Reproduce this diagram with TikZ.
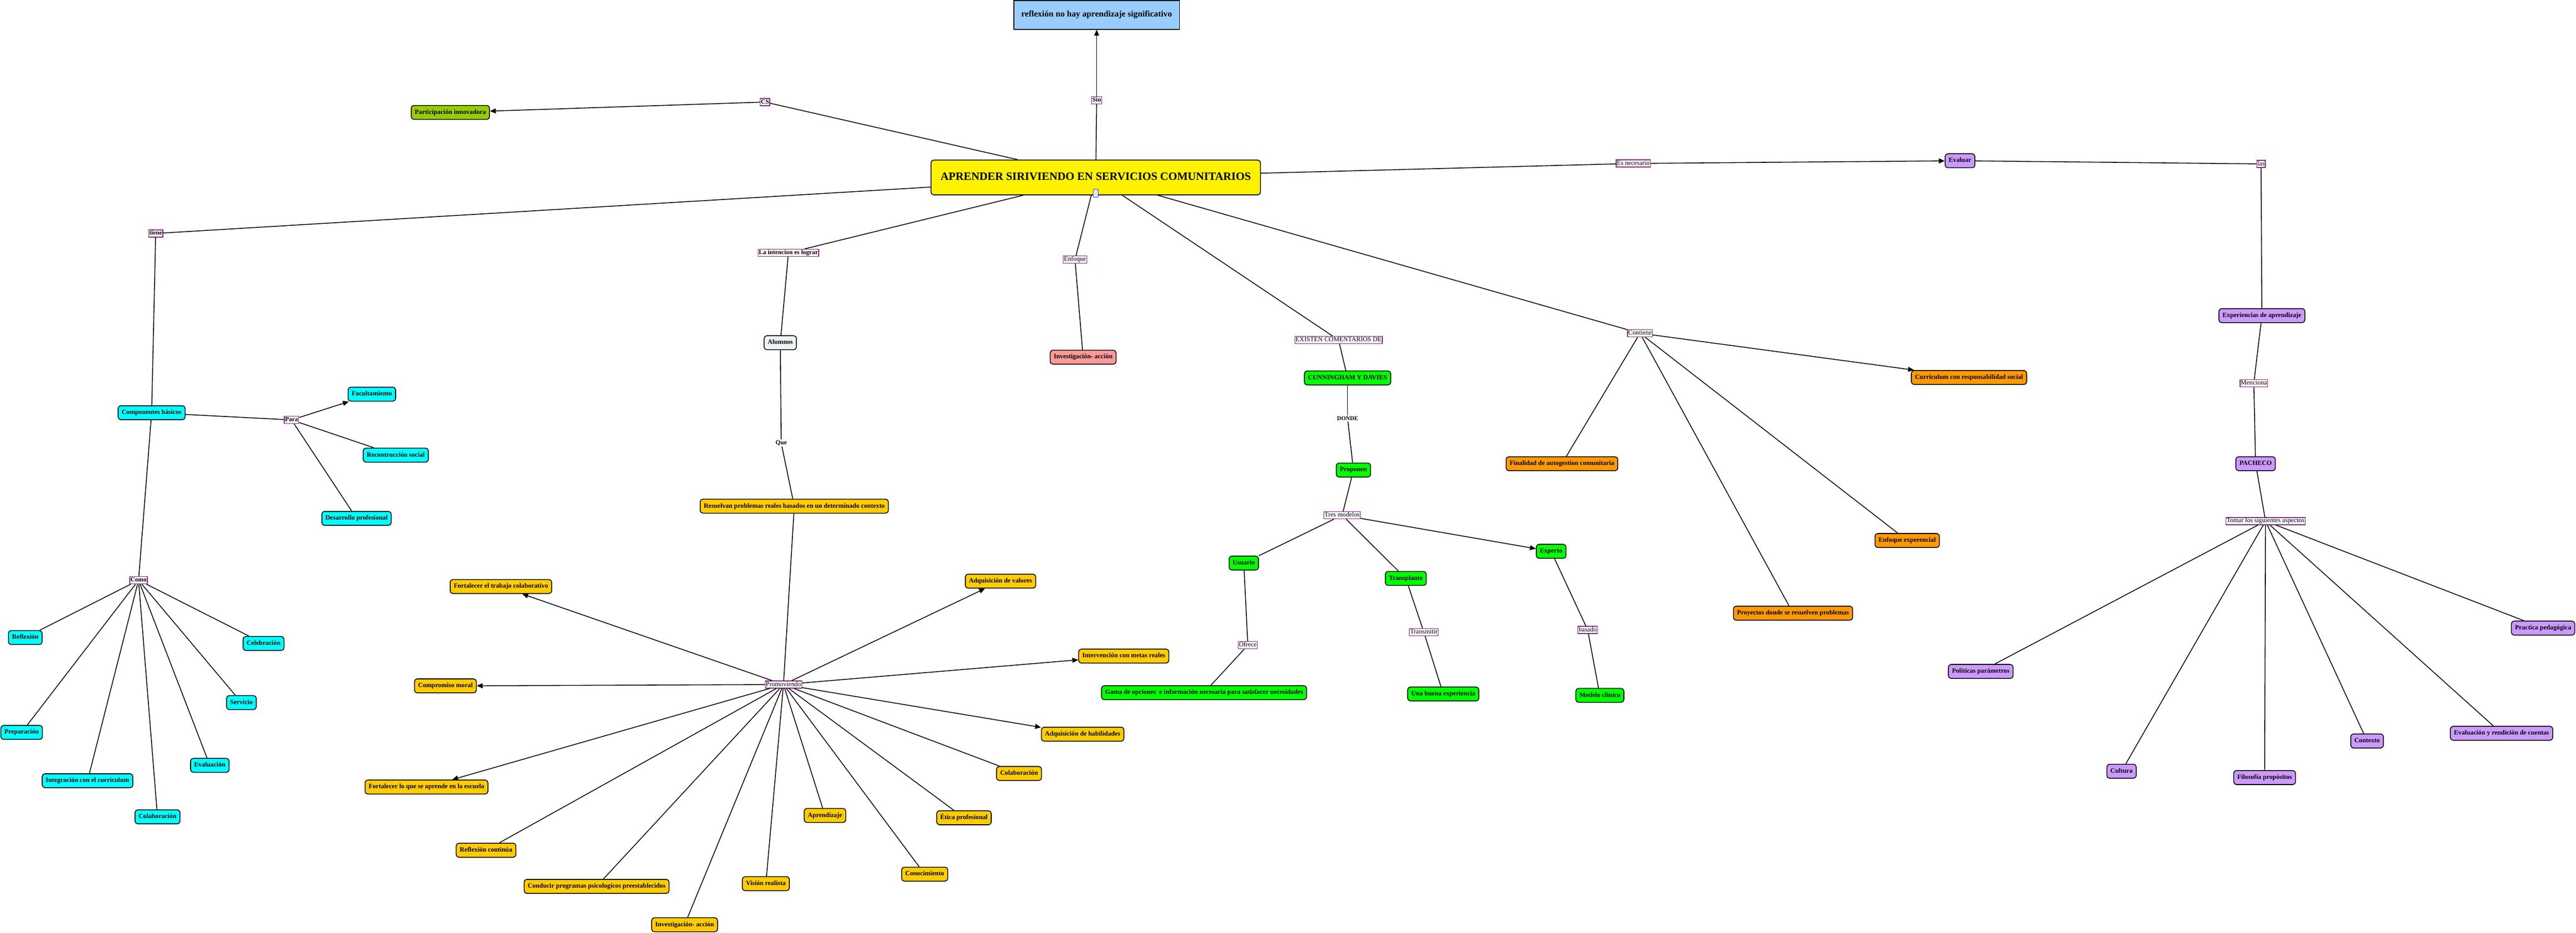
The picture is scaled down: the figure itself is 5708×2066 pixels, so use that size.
\documentclass[tikz,border=0pt]{standalone}
\usepackage{fontspec}
\setmainfont{Liberation Serif}
\usetikzlibrary{arrows.meta}
\definecolor{cyanc}{HTML}{00FFFF}
\definecolor{goldc}{HTML}{FFCC00}
\definecolor{limec}{HTML}{00FF00}
\definecolor{orangec}{HTML}{FF9900}
\definecolor{purpc}{HTML}{CC99FF}
\definecolor{pinkc}{HTML}{FF9999}
\definecolor{olivec}{HTML}{99CC00}
\definecolor{bluec}{HTML}{99CCFF}
\definecolor{labelb}{HTML}{882288}
\definecolor{alumc}{HTML}{EEF3F6}
\tikzset{
  concept/.style={draw=black, line width=1.8pt, rounded corners=6pt,
    font=\fontsize{14.5}{16}\selectfont\bfseries, inner xsep=8pt, inner ysep=0pt,
    minimum height=31pt, text height=10pt, text depth=3pt},
  cy/.style={concept, fill=cyanc},
  gd/.style={concept, fill=goldc},
  lm/.style={concept, fill=limec},
  og/.style={concept, fill=orangec},
  pp/.style={concept, fill=purpc},
  lbl/.style={draw=labelb, fill=white, line width=1.5pt, inner sep=1.5pt,
    font=\fontsize{14.5}{16}\selectfont, text height=10pt, text depth=3pt},
  lblb/.style={lbl, font=\fontsize{14}{16}\selectfont\bfseries},
  plaintxt/.style={font=\fontsize{14}{16}\selectfont\bfseries, inner sep=2pt},
  con/.style={line width=1.8pt},
  arr/.style={con, -{Triangle[length=13pt,width=11pt]}}
}
\begin{document}
\begin{tikzpicture}[x=1pt,y=-1pt]
\useasboundingbox (0,0) rectangle (5708,2066);
% central
\node[concept, fill=yellow, minimum width=730pt, minimum height=77pt, text height=18pt, text depth=5pt,
  font=\fontsize{25}{29}\selectfont\bfseries] (main) at (2428,393) {APRENDER SIRIVIENDO EN SERVICIOS COMUNITARIOS};
\node[draw=black, fill=bluec, line width=1.8pt, minimum width=367pt, minimum height=64pt,
  font=\fontsize{19}{22}\selectfont\bfseries] (refl) at (2430,33) {reflexión no hay aprendizaje significativo};
\node[lblb] (sin) at (2430,222) {Sin};
\node[lblb] (cs) at (1695,226) {CS};
\node[concept, fill=olivec] (part) at (998,249) {Participación innovadora};
% left: tiene
\node[lblb] (tiene) at (345,517) {tiene};
\node[cy] (comp) at (336,914) {Componentes básicos};
\node[lblb] (para) at (646,930) {Para};
\node[cy] (facu) at (824,873) {Facultamiento};
\node[cy] (recon) at (877,1008) {Recontrucción social};
\node[cy] (desa) at (790,1148) {Desarrollo profesional};
\node[lblb] (como) at (307,1285) {Como};
\node[cy] (reflex) at (56,1412) {Reflexión};
\node[cy] (celeb) at (584,1425) {Celebración};
\node[cy] (serv) at (535,1556) {Servicio};
\node[cy] (prep) at (48,1622) {Preparación};
\node[cy] (evalc) at (465,1695) {Evaluación};
\node[cy] (integ) at (194,1729) {Integración con el curriculum};
\node[cy] (colab) at (349,1809) {Colaboración};
% intencion
\node[lblb] (inten) at (1747,560) {La intencion es lograr};
\node[concept, fill=alumc] (alum) at (1729,759) {Alumnos};
\node[plaintxt] (que) at (1731,981) {Que};
\node[gd] (resu) at (1760,1121) {Resuelvan problemas reales basados en un determinado contexto};
\node[lbl] (prom) at (1736,1516) {Promoviendo};
\node[gd] (ftc) at (1110,1299) {Fortalecer el trabajo colaborativo};
\node[gd] (cmor) at (987,1519) {Compromiso moral};
\node[gd] (fesc) at (945,1743) {Fortalecer lo que se aprende en la escuela};
\node[gd] (rcon) at (1077,1883) {Reflexión continúa};
\node[gd] (cond) at (1322,1963) {Conducir programas psicologicos preestablecidos};
\node[gd] (inv) at (1517,2048) {Investigación- acción};
\node[gd] (vis) at (1697,1957) {Visión realista};
\node[gd] (apre) at (1828,1806) {Aprendizaje};
\node[gd] (cono) at (2049,1936) {Conocimiento};
\node[gd] (etic) at (2136,1811) {Ética profesional};
\node[gd] (colb) at (2258,1713) {Colaboración};
\node[gd] (ahab) at (2399,1626) {Adquisición de habilidades};
\node[gd] (imet) at (2490,1453) {Intervención con metas reales};
\node[gd] (aval) at (2217,1287) {Adquisición de valores};
% enfoque
\node[lbl] (enfq) at (2382,575) {Enfoque};
\node[concept, fill=pinkc] (inva) at (2400,791) {Investigación- acción};
% cunningham
\node[lbl] (exis) at (2966,753) {EXISTEN COMENTARIOS DE};
\node[lm] (cunn) at (2986,837) {CUNNINGHAM Y DAVIES};
\node[plaintxt, font=\fontsize{13}{15}\selectfont\bfseries] (donde) at (2986,927) {DONDE};
\node[lm] (prop) at (2999,1041) {Proponen};
\node[lbl] (tres) at (2974,1141) {Tres modelos};
\node[lm] (usu) at (2756,1247) {Usuario};
\node[lm] (tran) at (3115,1281) {Transplante};
\node[lm] (expt) at (3437,1221) {Experto};
\node[lbl] (ofre) at (2765,1429) {Ofrece};
\node[lm] (gama) at (2668,1534) {Gama de opciones~ e información necesaria para satisfacer necesidades};
\node[lbl] (trm) at (3155,1400) {Transmitir};
\node[lm] (unab) at (3198,1537) {Una buena experiencia};
\node[lbl] (basa) at (3518,1395) {basado};
\node[lm] (mcli) at (3545,1540) {Modelo clinico};
% contiene
\node[lbl] (cont) at (3634,738) {Contiene};
\node[og] (fina) at (3461,1027) {Finalidad de autogestion comunitaria};
\node[og] (proy) at (3973,1358) {Proyectos donde se resuelven problemas};
\node[og] (enex) at (4226,1197) {Enfoque experencial};
\node[og] (curr) at (4363,836) {Curriculum con responsabilidad social};
% evaluar
\node[lbl] (esnec) at (3619,362) {Es necesario};
\node[pp] (eval) at (4343,356) {Evaluar};
\node[lbl] (las) at (5010,363) {las};
\node[pp] (expa) at (5012,699) {Experiencias de aprendizaje};
\node[lbl] (menc) at (4994,849) {Menciona};
\node[pp] (pach) at (4998,1027) {PACHECO};
\node[lbl] (tomar) at (5020,1154) {Tomar los siguientes aspectos};
\node[pp] (prac) at (5635,1391) {Practica pedagógica};
\node[pp] (poli) at (4389,1487) {Políticas parámetros};
\node[pp] (evrc) at (5543,1624) {Evaluación y rendición de cuentas};
\node[pp] (ctx) at (5245,1641) {Contexto};
\node[pp] (cult) at (4701,1708) {Cultura};
\node[pp] (filo) at (5018,1722) {Filosofía propósitos};
% connectors
\draw[con] (main) -- (sin);
\draw[arr] (sin) -- (refl);
\draw[con] (main) -- (cs);
\draw[arr] (cs) -- (part);
\draw[con] (main) -- (tiene);
\draw[con] (tiene) -- (comp);
\draw[con] (comp) -- (para);
\draw[arr] (para) -- (facu);
\draw[con] (para) -- (recon);
\draw[con] (para) -- (desa);
\draw[con] (comp) -- (como);
\foreach \t in {reflex,celeb,serv,prep,evalc,integ,colab} \draw[con] (como) -- (\t);
\draw[con] (main) -- (inten);
\draw[con] (inten) -- (alum);
\draw[con] (alum) -- (que);
\draw[con] (que) -- (resu);
\draw[con] (resu) -- (prom);
\foreach \t in {ftc,cmor,fesc,aval,imet,ahab} \draw[arr] (prom) -- (\t);
\foreach \t in {rcon,cond,inv,vis,apre,cono,etic,colb} \draw[con] (prom) -- (\t);
\draw[con] (main) -- (enfq);
\draw[con] (enfq) -- (inva);
\draw[con] (main) -- (exis);
\draw[con] (exis) -- (cunn);
\draw[con] (cunn) -- (donde);
\draw[con] (donde) -- (prop);
\draw[con] (prop) -- (tres);
\draw[con] (tres) -- (usu);
\draw[con] (tres) -- (tran);
\draw[arr] (tres) -- (expt);
\draw[con] (usu) -- (ofre);
\draw[con] (ofre) -- (gama);
\draw[con] (tran) -- (trm);
\draw[con] (trm) -- (unab);
\draw[con] (expt) -- (basa);
\draw[con] (basa) -- (mcli);
\draw[con] (main) -- (cont);
\draw[arr] (cont) -- (curr);
\foreach \t in {fina,proy,enex} \draw[con] (cont) -- (\t);
\draw[con] (main) -- (esnec);
\draw[arr] (esnec) -- (eval);
\draw[con] (eval) -- (las);
\draw[con] (las) -- (expa);
\draw[con] (expa) -- (menc);
\draw[con] (menc) -- (pach);
\draw[con] (pach) -- (tomar);
\foreach \t in {prac,poli,evrc,ctx,cult,filo} \draw[con] (tomar) -- (\t);
% small icon on the central node
\node[draw=blue!60!black, fill=blue!10, line width=0.8pt, rounded corners=1.5pt,
  minimum width=11pt, minimum height=18pt, inner sep=0pt] (icon) at (2428,428) {};
\end{tikzpicture}
\end{document}
